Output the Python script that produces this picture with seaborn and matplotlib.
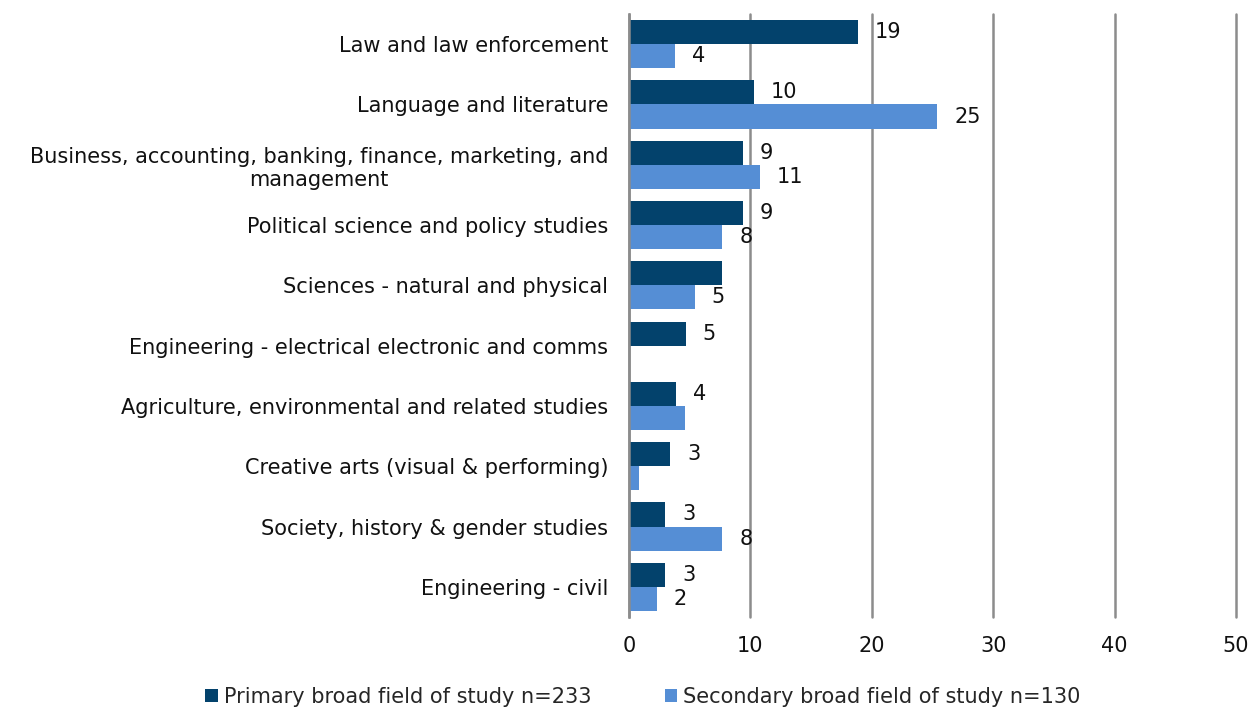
import matplotlib
matplotlib.use("Agg")
import matplotlib.pyplot as plt
import seaborn as sns
import pandas as pd
from matplotlib.patches import Patch

categories = [
    "Law and law enforcement",
    "Language and literature",
    "Business, accounting, banking, finance, marketing, and\nmanagement",
    "Political science and policy studies",
    "Sciences - natural and physical",
    "Engineering - electrical electronic and comms",
    "Agriculture, environmental and related studies",
    "Creative arts (visual & performing)",
    "Society, history & gender studies",
    "Engineering - civil",
]
series_names = [
    "Primary broad field of study n=233",
    "Secondary broad field of study n=130",
]
primary = [18.9, 10.3, 9.4, 9.4, 7.7, 4.7, 3.9, 3.4, 3.0, 3.0]
secondary = [3.8, 25.4, 10.8, 7.7, 5.4, 0.0, 4.6, 0.8, 7.7, 2.3]
# which bars carry a value label
primary_labeled = [True, True, True, True, False, True, True, True, True, True]
secondary_labeled = [True, True, True, True, True, False, False, False, True, True]
x_ticks = [0, 10, 20, 30, 40, 50]

colors = ["#03426C", "#558ED5"]
FS = 15

df = pd.DataFrame({
    "category": categories * 2,
    "series": [series_names[0]] * len(categories) + [series_names[1]] * len(categories),
    "value": primary + secondary,
})

sns.set_theme(style="white")
plt.rcParams["font.family"] = ["DejaVu Sans"]
plt.rcParams["font.size"] = FS

fig = plt.figure(figsize=(12.53, 7.09), dpi=100)
ax = fig.add_axes([629 / 1253, 1 - 617 / 709, (1236 - 629) / 1253, (617 - 14) / 709])

sns.barplot(
    data=df, x="value", y="category", hue="series", order=categories,
    hue_order=series_names, palette=colors, orient="h", width=0.8,
    saturation=1, ax=ax, legend=False, edgecolor="none",
)

ax.set_xlim(0, 50)
ax.set_xticks(x_ticks)
ax.set_xticklabels([str(t) for t in x_ticks], fontsize=FS, color="#111111")
ax.tick_params(axis="x", length=0, pad=14)
ax.tick_params(axis="y", length=0, pad=15)
for lbl in ax.get_yticklabels():
    lbl.set_multialignment("center")
    lbl.set_fontsize(FS)
    lbl.set_color("#111111")
ax.set_xlabel("")
ax.set_ylabel("")

ax.grid(axis="x", color="#8c8c8c", linewidth=1.8)
ax.grid(axis="y", visible=False)
ax.set_axisbelow(True)
for line in ax.get_xgridlines():
    line.set_clip_on(False)
for side in ["top", "right", "bottom"]:
    ax.spines[side].set_visible(False)
ax.spines["left"].set_color("#8c8c8c")
ax.spines["left"].set_linewidth(1.8)

flags = [primary_labeled, secondary_labeled]
for container, vals, show in zip(ax.containers, [primary, secondary], flags):
    labels = [f"{v:.0f}" if s else "" for v, s in zip(vals, show)]
    ax.bar_label(container, labels=labels, padding=12, fontsize=FS, color="#111111")

handles = [Patch(facecolor=c, edgecolor="none") for c in colors]
fig.legend(
    handles, series_names, loc="center", bbox_to_anchor=(643 / 1253, 1 - 697 / 709),
    ncol=2, frameon=False, fontsize=FS, handlelength=0.6, handleheight=0.6,
    handletextpad=0.3, columnspacing=3.5,
)

fig.savefig("out.png", dpi=100)
